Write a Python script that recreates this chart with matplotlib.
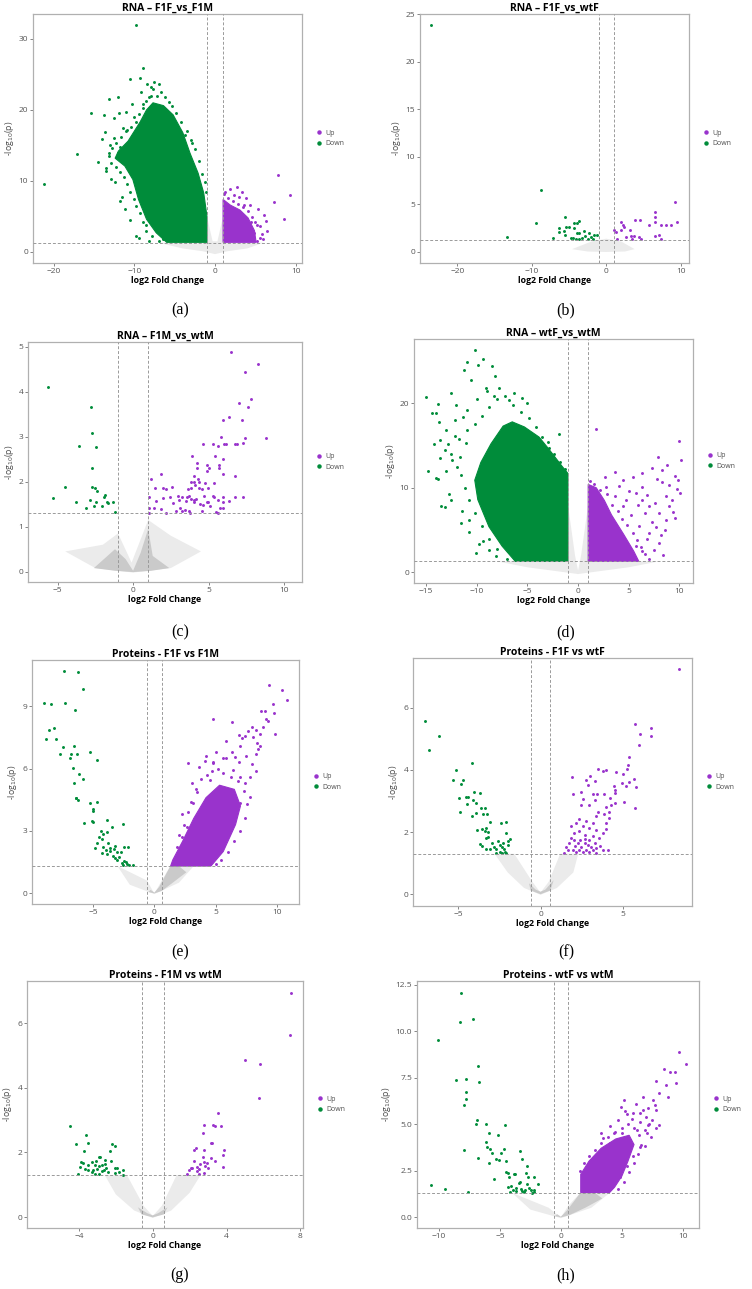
import matplotlib
matplotlib.use("Agg")
import matplotlib.pyplot as plt
from matplotlib.lines import Line2D

plt.rcParams["font.family"] = ["Open Sans", "DejaVu Sans"]

W, H = 752, 1289
GREEN = "#008C3A"
PURPLE = "#9933CC"
GREY_LIGHT = "#ebebeb"
GREY_DARK = "#cacaca"
TEXT = "#4d4d4d"

# ---------------- (a) RNA - F1F_vs_F1M ----------------
a_down_x = [-21.2, -17.1, -15.4, -14.5, -13.5, -12.4, -11.6, -11.2, -9.8, -9.8, -8.9, -10.5, -9.3, -7.6,
            -13.2, -13.8, -12.0, -11.0, -8.5, -7.7, -6.7, -5.7, -13.7, -13.1, -12.0, -11.4, -10.2, -9.3,
            -10.7, -9.6, -8.6, -7.3, -6.4, -2.9, -3.7, -12.6, -11.8, -10.0, -9.0, -8.2, -11.5, -10.9,
            -8.2, -7.8, -8.6, -9.0, -9.3, -9.8, -10.0, -10.5, -10.9, -11.3, -11.8, -12.3, -12.9, -13.2,
            -12.8, -12.3, -11.7, -11.0, -10.4, -9.8, -9.5, -9.0, -8.6, -8.0, -7.2, -6.2, -5.4, -4.8,
            -4.2, -3.5, -3.0, -2.5, -2.0, -1.6, -1.3, -1.1, -7.0, -9.5, -10.6, -11.8, -12.9, -13.5,
            -13.2, -14.0, -12.6, -11.9, -10.3, -9.2, -8.0, -7.0]
a_down_y = [9.6, 13.8, 19.6, 12.6, 11.4, 9.9, 7.8, 6.0, 2.3, 31.9, 25.9, 24.4, 24.5, 23.9,
            21.6, 19.3, 21.8, 19.7, 23.6, 22.9, 22.5, 21.1, 16.9, 15.1, 13.9, 17.5, 15.8, 13.5,
            11.6, 9.2, 3.8, 3.1, 1.8, 15.3, 16.5, 16.0, 14.8, 19.0, 20.8, 21.8, 12.8, 17.2,
            1.6, 2.2, 3.0, 4.2, 5.5, 6.5, 7.5, 8.5, 9.5, 10.5, 11.2, 12.0, 12.5, 13.5,
            14.6, 15.3, 16.2, 17.0, 17.6, 18.3, 19.4, 20.3, 21.3, 22.0, 22.0, 21.8, 20.5, 19.5,
            18.3, 17.0, 15.8, 14.5, 12.8, 11.0, 9.8, 8.5, 1.5, 2.0, 4.5, 7.2, 10.3, 11.8,
            14.0, 15.9, 18.8, 19.5, 20.9, 22.5, 23.2, 23.6]
a_down_core_x = [-1.0, -1.0, -1.4, -2.1, -3.1, -4.0, -5.2, -6.4, -7.7, -8.5, -9.3, -10.8, -12.0, -12.4,
                 -11.2, -10.2, -9.5, -8.5, -7.3, -6.0]
a_down_core_y = [1.36, 5.0, 8.3, 11.1, 13.9, 16.8, 19.3, 20.6, 21.0, 20.0, 18.3, 15.6, 14.2, 13.2,
                 12.1, 10.2, 7.4, 4.6, 2.7, 1.36]
a_up_x = [7.8, 9.3, 7.3, 8.6, 6.1, 6.3, 2.7, 3.4, 3.9, 5.3, 5.2, 1.3, 2.3, 4.8, 4.5, 5.6, 3.6,
          1.1, 1.6, 2.2, 2.9, 3.5, 4.1, 4.6, 5.0, 5.6, 5.8, 6.0, 5.2, 4.4, 3.0, 1.8, 6.5, 4.7]
a_up_y = [10.8, 8.0, 7.0, 4.6, 5.2, 4.4, 9.2, 8.5, 7.6, 6.1, 3.8, 8.5, 8.0, 2.7, 4.2, 2.0, 6.6,
          8.2, 7.6, 7.2, 6.8, 6.4, 5.8, 4.9, 4.2, 3.6, 2.5, 1.8, 1.6, 6.6, 7.7, 8.9, 3.0, 2.2]
a_up_core_x = [1.0, 1.0, 1.9, 3.1, 4.1, 4.9, 5.1]
a_up_core_y = [1.36, 7.4, 6.6, 5.9, 4.8, 3.0, 1.36]
a_ns_x = [-7.0, -1.0, -1.0, -0.3, 0.3, 1.0, 1.0, 6.0, 4.0, 1.5, 0.0, -1.5, -4.0]
a_ns_y = [1.3, 1.3, 5.0, 1.5, 1.5, 5.0, 1.3, 1.3, 0.5, 0.1, -0.3, 0.1, 0.5]

# ---------------- (b) RNA - F1F_vs_wtF ----------------
b_down_x = [-23.5, -8.7, -9.4, -13.3, -5.6, -7.2, -6.4, -6.4, -5.6, -5.4, -5.0, -5.7, -4.3, -3.9, -3.6,
            -4.3, -3.9, -4.5, -4.1, -3.6, -3.0, -3.2, -2.8, -2.3, -2.1, -1.8, -1.2, -2.5, -4.7, -3.7, -1.7]
b_down_y = [23.9, 6.5, 3.1, 1.6, 3.7, 1.5, 2.5, 2.1, 1.75, 2.6, 2.6, 2.2, 3.0, 3.1, 3.3,
            2.5, 2.0, 1.5, 1.4, 2.0, 2.2, 1.5, 1.65, 2.0, 1.6, 1.4, 1.8, 1.4, 1.5, 1.35, 1.8]
b_up_x = [1.1, 1.25, 1.5, 2.0, 2.2, 2.4, 2.0, 2.6, 3.2, 3.3, 3.5, 3.7, 3.9, 4.5, 4.4, 5.7, 6.6, 6.6,
          6.6, 6.6, 7.1, 7.4, 7.4, 8.0, 8.7, 9.2, 9.5, 4.6]
b_up_y = [2.35, 2.1, 1.35, 3.2, 2.85, 2.6, 2.35, 1.6, 2.35, 1.65, 1.35, 1.65, 3.35, 3.35, 1.6, 2.8, 4.25,
          3.7, 3.2, 1.65, 1.75, 2.8, 1.35, 2.85, 2.85, 5.25, 3.15, 1.4]
b_ns_x = [-4.6, -2.0, 0.0, 2.0, 3.8, 2.5, 0.0, -2.5]
b_ns_y = [0.3, 1.1, 1.4, 1.1, 0.3, 0.05, 0.0, 0.05]

# ---------------- (c) RNA - F1M_vs_wtM ----------------
c_down_x = [-5.66, -5.31, -4.51, -3.76, -3.56, -2.77, -2.74, -2.74, -2.43, -2.70, -2.54, -2.39, -2.83,
            -3.10, -2.59, -2.43, -1.95, -1.86, -1.73, -1.64, -2.04, -1.33, -1.22]
c_down_y = [4.11, 1.65, 1.88, 1.54, 2.80, 3.67, 3.09, 2.31, 2.77, 1.88, 1.87, 1.80, 1.59,
            1.42, 1.46, 1.55, 1.66, 1.71, 1.54, 1.53, 1.47, 1.54, 1.32]
c_up_x = [6.46, 8.30, 7.41, 7.79, 7.04, 7.59, 6.33, 5.95, 7.23, 8.78, 7.43, 5.80, 4.65, 5.31, 5.60, 6.02,
          6.13, 6.77, 6.92, 7.30, 3.92, 5.42, 5.93, 4.23, 4.91, 5.69, 4.27, 4.87, 5.04, 5.69, 1.88, 5.93,
          6.79, 1.17, 4.05, 4.29, 3.87, 4.05, 4.34, 4.80, 5.38, 1.46, 1.97, 2.19, 2.61, 3.67, 3.87, 4.12,
          4.38, 4.54, 4.96, 1.08, 1.99, 2.43, 3.01, 3.27, 3.58, 3.72, 3.83, 4.03, 4.20, 4.69, 5.31, 5.38,
          5.97, 6.73, 7.30, 1.55, 3.05, 3.50, 4.07, 4.87, 4.98, 5.66, 5.93, 6.39, 1.39, 1.88, 2.65, 3.12,
          4.42, 4.65, 5.09, 5.93, 1.08, 1.08, 2.15, 2.83, 3.21, 3.43, 3.69, 3.76, 4.60, 5.53, 5.60, 5.75]
c_up_y = [4.89, 4.61, 4.44, 3.85, 3.76, 3.67, 3.44, 3.38, 3.37, 2.97, 2.97, 3.00, 2.83, 2.83, 2.80, 2.83,
          2.83, 2.83, 2.83, 2.86, 2.57, 2.57, 2.51, 2.41, 2.38, 2.38, 2.31, 2.23, 2.31, 2.31, 2.17, 2.17,
          2.13, 2.07, 2.13, 2.06, 2.00, 2.00, 2.00, 1.98, 1.98, 1.86, 1.86, 1.85, 1.89, 1.83, 1.87, 1.92,
          1.87, 1.85, 1.86, 1.66, 1.65, 1.66, 1.68, 1.66, 1.66, 1.68, 1.62, 1.59, 1.61, 1.68, 1.69, 1.66,
          1.66, 1.66, 1.66, 1.57, 1.59, 1.57, 1.55, 1.54, 1.55, 1.59, 1.54, 1.57, 1.42, 1.39, 1.53, 1.42,
          1.51, 1.48, 1.45, 1.42, 1.42, 1.31, 1.31, 1.35, 1.35, 1.37, 1.36, 1.31, 1.35, 1.33, 1.31, 1.41]
c_ns_x = [-4.5, -2.0, -1.0, -0.1, 1.0, 2.5, 4.5, 2.5, 0.0, -2.5]
c_ns_y = [0.45, 0.6, 0.85, 0.2, 1.15, 0.8, 0.45, 0.08, -0.02, 0.08]
c_ns_core_x = [-2.6, -1.2, -0.5, 0.0, 0.5, 1.0, 1.3, 2.4, 1.2, 0.0, -1.2]
c_ns_core_y = [0.08, 0.5, 0.28, 0.02, 0.42, 0.95, 0.35, 0.08, 0.02, -0.01, 0.02]

# ---------------- (d) RNA - wtF_vs_wtM ----------------
d_down_x = [-15.0, -14.8, -14.4, -14.0, -13.8, -13.7, -14.0, -13.8, -13.5, -13.1, -12.7, -12.5, -13.6,
            -13.1, -12.2, -12.1, -11.6, -11.3, -11.0, -10.6, -10.2, -9.9, -9.4, -8.5, -8.2, -9.1, -10.1,
            -9.4, -11.4, -11.1, -11.7, -12.4, -10.8, -8.3, -6.8, -5.5, -1.9, -2.9, -3.4, -8.1, -8.8,
            -7.0, -8.0, -8.8, -9.5, -10.2, -10.8, -11.2, -11.6, -12.0, -12.5, -12.8, -11.8, -11.0, -10.2,
            -9.5, -8.8, -8.0, -7.2, -6.4, -5.6, -4.8, -4.2, -3.6, -3.0, -2.4, -1.8, -1.3, -13.0, -13.6,
            -14.2, -13.0, -12.2, -11.0, -10.0, -9.0, -7.8, -6.3, -5.0, -9.7, -12.5, -11.5, -10.8, -9.8]
d_down_y = [20.7, 12.0, 18.8, 18.9, 19.9, 17.8, 11.2, 11.1, 7.8, 7.7, 9.3, 21.2, 15.7,
            14.5, 16.1, 19.8, 5.8, 23.9, 24.9, 22.7, 26.3, 24.5, 25.2, 24.4, 23.2, 21.8, 2.3,
            3.7, 18.4, 15.3, 13.7, 13.3, 6.2, 20.8, 20.4, 20.6, 16.4, 14.7, 14.1, 1.9, 2.7,
            1.6, 2.8, 4.0, 5.5, 7.0, 8.5, 10.0, 11.5, 12.5, 14.0, 15.2, 15.8, 16.8, 17.5,
            18.5, 19.5, 20.5, 20.8, 19.8, 19.0, 18.3, 17.2, 16.0, 15.4, 14.0, 13.0, 12.2, 12.0, 13.5,
            15.2, 16.8, 18.0, 19.2, 20.5, 21.5, 21.8, 21.2, 20.0, 10.2, 8.6, 7.3, 4.8, 3.3]
d_down_core_x = [-1.0, -1.0, -1.55, -2.9, -3.85, -5.3, -6.5, -7.4, -8.6, -9.6, -10.2, -9.9, -8.8, -7.5, -6.2]
d_down_core_y = [1.3, 11.7, 12.5, 14.6, 16.0, 17.2, 17.8, 17.3, 15.2, 13.0, 10.9, 8.6, 5.4, 3.1, 1.3]
d_up_x = [1.8, 10.0, 10.2, 7.9, 9.6, 9.9, 9.8, 10.1, 9.6, 8.3, 7.3, 6.3, 5.4, 4.4, 3.6, 2.7, 8.3, 8.7,
          9.0, 8.0, 7.7, 7.0, 8.2, 8.4, 6.3, 5.7, 8.7, 9.3, 6.3, 7.0, 5.7, 4.7,
          1.2, 1.6, 2.2, 2.9, 3.4, 3.9, 4.3, 4.8, 5.4, 5.8, 6.2, 6.6, 7.0, 7.5, 6.8, 6.0, 5.2, 4.4,
          3.6, 2.8, 7.3, 6.6, 5.9, 5.0, 4.0, 6.3, 7.6, 8.0, 8.6, 9.4, 9.0, 7.8, 6.8, 8.8]
d_up_y = [16.9, 15.5, 13.3, 13.6, 11.4, 10.9, 9.8, 9.4, 6.4, 12.1, 12.3, 11.7, 11.3, 10.9, 11.9, 11.3,
          10.7, 9.0, 7.8, 7.0, 5.4, 4.6, 4.4, 2.1, 2.5, 3.1, 6.2, 8.6, 8.6, 7.8, 9.4, 8.6,
          10.8, 10.4, 9.7, 9.3, 8.0, 7.2, 6.3, 5.6, 4.6, 3.8, 3.0, 2.2, 1.6, 2.6, 4.0, 5.5, 6.8, 7.9,
          9.0, 10.1, 6.0, 7.0, 8.0, 9.6, 10.2, 10.1, 8.2, 3.5, 5.0, 7.1, 10.3, 11.0, 9.2, 12.7]
d_up_core_x = [1.0, 1.0, 1.8, 2.6, 3.3, 4.5, 5.5, 6.0]
d_up_core_y = [1.3, 10.4, 10.0, 8.5, 6.8, 4.5, 2.5, 1.3]
d_ns_x = [-8.0, -1.0, -1.0, -0.3, 0.0, 0.3, 1.0, 1.0, 8.0, 5.0, 0.0, -5.0]
d_ns_y = [1.3, 1.3, 8.0, 2.0, 0.2, 2.0, 8.0, 1.3, 1.3, 0.6, -0.2, 0.6]

# ---------------- (e) Proteins - F1F vs F1M ----------------
e_down_x = [-7.38, -6.24, -5.81, -8.97, -8.41, -7.27, -6.43, -8.59, -8.16, -8.84, -7.97, -7.46, -7.65,
            -6.57, -6.78, -6.89, -6.30, -5.22, -4.68, -6.62, -6.14, -5.84, -6.51, -6.38, -6.19, -6.35,
            -5.22, -4.65, -5.03, -4.95, -5.08, -4.95, -5.70, -3.86, -3.41, -2.57, -4.32, -4.14, -4.49,
            -3.86, -3.78, -4.27, -4.68, -4.86, -4.14, -3.59, -3.19, -2.46, -2.11, -3.97, -3.59, -3.32,
            -3.00, -4.24, -3.86, -3.38, -3.19, -2.89, -2.73, -3.05, -2.46, -2.65, -2.30, -2.05, -1.76,
            -2.57, -2.24]
e_down_y = [10.71, 10.66, 9.84, 9.16, 9.12, 9.16, 8.83, 7.86, 7.97, 7.43, 7.43, 7.04, 6.72,
            7.11, 6.70, 6.50, 6.72, 6.80, 6.40, 6.05, 5.74, 5.51, 5.31, 4.60, 4.50, 4.57,
            4.32, 4.37, 4.04, 3.97, 3.49, 3.41, 3.39, 3.52, 3.20, 3.34, 2.99, 2.85, 2.68,
            2.93, 2.43, 2.60, 2.40, 2.19, 2.24, 2.19, 2.27, 2.20, 2.24, 2.07, 2.04, 2.11,
            1.99, 1.91, 1.88, 1.78, 1.70, 1.75, 1.99, 1.59, 1.56, 1.43, 1.48, 1.35, 1.35,
            1.35, 1.38]
e_up_x = [9.32, 10.41, 10.78, 9.65, 9.76, 8.65, 8.97, 9.11, 9.22, 9.84, 4.78, 6.35, 5.81, 8.84, 7.95,
          7.62, 8.30, 8.57, 6.89, 7.35, 8.03, 7.00, 8.38, 8.43, 8.24, 7.49, 6.57, 2.76, 4.11, 5.54,
          4.78, 6.41, 6.95, 7.35, 7.76, 3.43, 3.16, 2.27, 2.62, 2.22, 6.95, 6.41, 5.86, 5.32, 4.78,
          4.24, 6.14, 5.32, 4.51,
          1.8, 2.0, 2.4, 2.7, 3.0, 3.4, 3.8, 4.3, 4.7, 5.2, 5.6, 6.2, 6.8, 7.3, 7.5, 7.4, 7.0, 6.5,
          6.0, 5.4, 5.0, 5.8, 6.3, 6.9, 7.8, 7.9, 5.0, 4.2, 3.6, 3.1, 8.3, 8.6, 7.1, 4.8]
e_up_y = [10.03, 9.77, 9.31, 9.12, 8.70, 8.78, 8.76, 8.38, 8.31, 7.68, 8.41, 8.25, 7.35, 8.02, 8.02,
          7.83, 7.86, 7.67, 7.62, 7.57, 7.54, 7.09, 7.22, 6.93, 6.69, 6.61, 6.54, 6.29, 6.37, 6.53,
          6.25, 5.93, 5.61, 5.29, 4.65, 4.89, 4.32, 3.79, 3.20, 2.72, 4.32, 3.68, 3.20, 2.72, 2.24,
          1.75, 4.32, 4.97, 5.45,
          2.2, 2.8, 3.3, 3.9, 4.4, 5.0, 5.5, 5.7, 5.9, 6.0, 5.8, 5.6, 5.4, 4.9, 4.3, 3.6, 3.0, 2.5,
          2.0, 1.6, 1.4, 6.5, 6.8, 6.3, 5.6, 6.2, 6.8, 6.6, 6.1, 5.3, 5.9, 7.1, 7.5, 6.3]
e_up_core_x = [1.32, 4.6, 5.6, 6.6, 7.0, 6.5, 5.3, 4.2, 3.2, 2.3, 1.5]
e_up_core_y = [1.30, 1.30, 2.0, 3.3, 4.2, 5.0, 5.2, 4.6, 3.6, 2.5, 1.6]
e_ns_x = [-3.0, -0.6, 0.0, 0.6, 1.3, 3.2, 2.0, 0.0, -2.0]
e_ns_y = [1.3, 0.6, -0.03, 0.6, 1.3, 1.3, 0.5, -0.05, 0.4]
e_ns_core_x = [-0.3, 0.0, 0.4, 1.3, 2.0, 2.6, 1.5, 0.6, 0.0, -0.5]
e_ns_core_y = [0.15, 0.02, 0.3, 1.3, 1.3, 1.0, 0.5, 0.1, -0.02, 0.05]

# ---------------- (f) Proteins - F1F vs wtF ----------------
f_down_x = [-7.04, -6.17, -6.82, -5.17, -5.35, -4.73, -4.87, -4.18, -4.99, -4.52, -4.40, -4.08, -3.69,
            -4.89, -4.48, -4.12, -3.96, -3.65, -3.41, -4.18, -3.91, -3.51, -3.25, -3.10, -3.85, -3.59,
            -3.31, -3.41, -3.17, -2.41, -2.09, -2.13, -3.67, -3.31, -3.21, -3.55, -3.35, -3.10, -2.98,
            -2.84, -2.70, -2.58, -2.49, -2.29, -2.37, -2.23, -1.99, -1.89, -1.97, -2.45, -2.17, -2.09,
            -2.70, -2.35]
f_down_y = [5.58, 5.08, 4.64, 3.99, 3.68, 3.68, 3.54, 4.22, 3.08, 3.14, 3.14, 3.30, 3.24,
            2.66, 2.89, 3.02, 2.93, 2.77, 2.76, 2.53, 2.62, 2.59, 2.59, 2.32, 2.07, 2.10,
            2.14, 2.04, 2.01, 2.29, 2.32, 1.96, 1.62, 1.80, 1.83, 1.56, 1.47, 1.47, 1.64,
            1.53, 1.47, 1.70, 1.59, 1.64, 1.53, 1.45, 1.70, 1.77, 1.59, 1.37, 1.37, 1.34,
            1.34, 1.34]
f_up_x = [8.46, 5.76, 6.73, 6.06, 6.71, 6.02, 5.37, 5.33, 5.27, 5.03, 4.97, 5.42, 5.68, 5.82, 5.21, 5.11,
          5.78, 4.00, 3.51, 3.83, 4.60, 3.04, 2.76, 3.31, 1.93, 2.92, 1.97, 2.45, 3.20, 3.43, 3.87, 4.48,
          4.54, 4.56, 4.24, 4.52, 3.96, 4.16, 4.32, 3.29, 2.58, 2.47, 2.98, 3.49, 3.89, 4.00, 4.20, 3.39,
          3.18, 2.78, 2.37, 2.58, 2.98, 3.39, 3.79, 3.96, 2.17, 1.87, 2.01, 2.37, 2.68, 3.18, 3.59, 1.87,
          2.07, 2.27, 2.47, 2.68, 2.88, 3.08, 3.29, 3.63, 4.14, 1.56, 1.66, 1.46, 1.97, 2.17, 2.37, 2.58,
          2.78, 2.98, 3.18, 3.39, 3.79, 2.41, 2.74, 2.98, 1.76, 2.13, 3.39]
f_up_y = [7.24, 5.48, 5.34, 5.17, 5.09, 4.81, 4.41, 4.16, 4.03, 3.87, 3.57, 3.62, 3.72, 3.44, 3.49, 2.97,
          2.76, 4.00, 4.03, 3.95, 3.93, 3.80, 3.68, 3.63, 3.76, 3.50, 3.23, 3.30, 3.23, 3.22, 3.22, 3.47,
          3.36, 3.25, 3.11, 2.95, 2.82, 2.66, 2.88, 3.02, 3.06, 2.88, 2.88, 2.66, 2.59, 2.29, 2.45, 2.50,
          2.29, 2.34, 2.41, 2.18, 2.12, 2.07, 1.96, 2.09, 2.29, 2.18, 1.96, 2.02, 1.91, 1.88, 1.80, 1.80,
          1.75, 1.64, 1.53, 1.64, 1.59, 1.53, 1.64, 1.56, 1.41, 1.53, 1.41, 1.34, 1.43, 1.37, 1.43, 1.37,
          1.43, 1.37, 1.43, 1.34, 1.43, 1.75, 1.77, 1.73, 1.64, 1.56, 1.48]
f_ns_x = [-2.8, -1.6, -0.5, 0.0, 0.5, 1.2, 2.3, 2.0, 1.0, 0.0, -1.0, -2.0]
f_ns_y = [1.3, 1.3, 0.4, 0.05, 0.4, 1.3, 1.3, 0.7, 0.2, -0.02, 0.2, 0.7]
f_ns_core_x = [-0.7, -0.3, 0.0, 0.3, 0.8, 0.6, 0.0, -0.6]
f_ns_core_y = [0.35, 0.15, 0.08, 0.15, 0.45, 0.12, 0.0, 0.12]

# ---------------- (g) Proteins - F1M vs wtM ----------------
g_down_x = [-4.50, -4.14, -4.07, -3.93, -3.89, -3.75, -3.71, -3.60, -3.53, -3.68, -3.53, -3.48, -3.30,
            -3.30, -3.15, -3.12, -3.03, -3.06, -2.92, -2.85, -2.90, -2.76, -2.76, -2.92, -2.61, -2.58,
            -2.52, -2.40, -2.31, -2.27, -2.18, -2.07, -2.07, -2.04, -1.91, -1.80, -1.59, -1.59, -2.65,
            -3.21]
g_down_y = [2.83, 2.27, 1.33, 1.54, 1.70, 1.67, 2.05, 2.55, 2.29, 1.50, 1.60, 1.44, 1.71,
            1.39, 1.33, 1.62, 1.48, 1.72, 1.86, 1.87, 1.57, 1.60, 1.43, 1.33, 1.65, 1.75,
            1.51, 1.39, 2.05, 1.72, 2.27, 2.20, 1.36, 1.51, 1.51, 1.39, 1.44, 1.31, 1.44,
            1.46]
g_up_x = [7.51, 7.41, 4.99, 5.82, 5.78, 3.53, 2.77, 3.28, 3.40, 3.69, 2.70, 3.13, 3.19, 2.34, 2.23, 2.77,
          3.85, 3.82, 3.15, 3.35, 2.25, 2.70, 2.77, 2.92, 2.85, 2.56, 2.05, 1.98, 2.13, 2.40, 2.52, 3.01,
          3.82, 1.87, 2.49, 2.79, 2.38]
g_up_y = [6.94, 5.63, 4.86, 4.73, 3.68, 3.22, 2.86, 2.85, 2.80, 2.81, 2.59, 2.28, 2.30, 2.13, 2.08, 2.08,
          2.08, 1.91, 1.83, 1.73, 1.72, 1.85, 1.70, 1.67, 1.59, 1.65, 1.53, 1.46, 1.53, 1.43, 1.48, 1.51,
          1.54, 1.33, 1.33, 1.36, 1.54]
g_ns_x = [-2.6, -1.4, -0.5, 0.0, 0.5, 1.3, 2.6, 2.0, 1.0, 0.0, -1.0, -2.0]
g_ns_y = [1.3, 1.3, 0.35, 0.03, 0.35, 1.3, 1.3, 0.75, 0.2, -0.03, 0.2, 0.7]
g_ns_core_x = [-0.8, -0.3, 0.0, 0.3, 0.8, 0.6, 0.0, -0.6]
g_ns_core_y = [0.3, 0.12, 0.05, 0.12, 0.3, 0.08, -0.01, 0.08]

# ---------------- (h) Proteins - wtF vs wtM ----------------
h_down_x = [-8.17, -8.28, -7.19, -10.08, -6.81, -8.58, -7.82, -6.73, -7.82, -7.82, -7.96, -6.87, -6.95,
            -6.10, -4.55, -5.89, -5.18, -6.10, -6.02, -5.83, -5.67, -4.88, -4.66, -3.38, -7.98, -6.81,
            -5.91, -5.29, -5.10, -4.52, -3.16, -5.45, -2.78, -4.50, -4.33, -3.87, -3.73, -4.28, -2.86,
            -2.70, -2.18, -10.68, -9.54, -7.63, -4.36, -4.09, -3.92, -4.20, -3.65, -3.46, -3.38, -3.27,
            -3.65, -3.05, -2.92, -2.78, -2.64, -2.45, -2.18, -2.37, -1.91, -2.23, -3.16]
h_down_y = [12.08, 10.47, 10.68, 9.52, 8.11, 7.36, 7.42, 7.28, 6.73, 6.33, 6.05, 5.21, 4.99,
            4.99, 4.94, 4.51, 4.40, 4.04, 3.76, 3.67, 3.43, 3.47, 3.65, 3.56, 3.60, 3.17,
            2.93, 3.11, 3.08, 3.02, 3.11, 2.04, 2.72, 2.45, 2.36, 2.33, 2.31, 2.18, 2.36,
            2.18, 2.18, 1.70, 1.52, 1.34, 1.59, 1.68, 1.47, 1.34, 1.56, 1.82, 1.91, 1.49,
            1.41, 1.34, 1.47, 1.77, 1.54, 1.47, 1.47, 1.32, 1.77, 1.34, 1.41]
h_up_x = [9.70, 10.30, 8.47, 8.99, 9.37, 9.43, 7.79, 8.66, 8.80, 8.07, 6.76, 7.52, 7.71, 7.79, 7.17, 6.76,
          6.49, 6.98, 7.47, 8.04, 7.17, 5.26, 5.40, 5.83, 4.36, 5.04, 3.49, 4.03, 2.62, 6.21, 7.03, 5.67,
          4.85, 6.49, 5.94, 5.40, 4.03, 4.85, 4.17,
          1.6, 1.9, 2.3, 2.8, 3.3, 3.9, 4.4, 5.0, 5.5, 6.0, 6.4, 6.6, 6.3, 6.0, 5.6, 5.2, 4.7, 6.9,
          7.2, 4.0, 4.7, 5.9, 6.5, 3.3, 7.4, 6.9, 7.8, 4.9, 5.2, 6.2]
h_up_y = [8.87, 8.26, 7.94, 7.82, 7.82, 7.21, 7.33, 7.10, 6.46, 6.65, 6.46, 6.29, 6.03, 5.76, 5.85, 5.76,
          5.58, 5.40, 5.22, 4.96, 4.96, 5.72, 5.55, 5.26, 4.54, 4.51, 4.24, 3.97, 3.04, 4.69, 4.51, 4.15,
          3.79, 3.79, 3.26, 2.72, 2.36, 2.18, 1.65,
          2.5, 2.9, 3.3, 3.6, 4.0, 4.3, 4.6, 4.8, 5.0, 4.8, 4.4, 3.9, 3.4, 2.9, 2.4, 1.9, 1.5, 4.7,
          5.0, 4.9, 5.2, 5.6, 5.1, 4.5, 4.3, 3.8, 4.8, 5.9, 6.3, 6.1]
h_up_core_x = [1.63, 1.63, 2.3, 3.3, 4.5, 5.6, 6.0, 5.5, 5.0, 4.4, 4.0]
h_up_core_y = [1.32, 2.3, 3.0, 3.7, 4.2, 4.4, 3.9, 3.0, 2.2, 1.6, 1.32]
h_ns_x = [-4.0, -1.0, 0.0, 0.6, 1.6, 4.0, 2.5, 0.0, -2.5]
h_ns_y = [1.3, 0.5, -0.03, 0.6, 1.3, 1.3, 0.5, -0.06, 0.4]
h_ns_core_x = [-0.3, 0.0, 0.5, 1.6, 2.8, 3.4, 2.0, 0.7, 0.0, -0.5]
h_ns_core_y = [0.15, 0.02, 0.35, 1.3, 1.3, 1.0, 0.5, 0.1, -0.02, 0.05]


def add_panel(box, title, xlim, ylim, xticks, yticks, fc,
              down, up, down_core=None, up_core=None, ns=None, ns_core=None,
              ytick_fmt="{:g}"):
    left, top, right, bottom = box
    ax = fig.add_axes([left / W, 1 - bottom / H, (right - left) / W, (bottom - top) / H])

    # dense clouds are drawn as filled outlines, loose points as dots
    if ns is not None:
        ax.fill(ns[0], ns[1], color=GREY_LIGHT, lw=0, zorder=1)
    if ns_core is not None:
        ax.fill(ns_core[0], ns_core[1], color=GREY_DARK, lw=0, zorder=1.1)
    if down_core is not None:
        ax.fill(down_core[0], down_core[1], color=GREEN, lw=0.8, ec=GREEN, zorder=2)
    if up_core is not None:
        ax.fill(up_core[0], up_core[1], color=PURPLE, lw=0.8, ec=PURPLE, zorder=2)
    ax.scatter(down[0], down[1], s=4.5, color=GREEN, lw=0, zorder=3)
    ax.scatter(up[0], up[1], s=4.5, color=PURPLE, lw=0, zorder=3)

    for v in (-fc, fc):
        ax.axvline(v, color="#9a9a9a", lw=0.7, ls=(0, (3, 2)), zorder=4)
    ax.axhline(1.3, color="#9a9a9a", lw=0.7, ls=(0, (3, 2)), zorder=4)

    ax.set_xlim(*xlim)
    ax.set_ylim(*ylim)
    ax.set_xticks(xticks)
    ax.set_yticks(yticks)
    ax.set_yticklabels([ytick_fmt.format(t) for t in yticks])
    ax.tick_params(labelsize=6, colors="#555555", length=2, width=0.5, pad=1.5)
    for sp in ax.spines.values():
        sp.set_color("#b0b0b0")
        sp.set_linewidth(0.9)

    ax.set_title(title, fontsize=7.5, fontweight="bold", pad=1.5)
    ax.set_xlabel("log2 Fold Change", fontsize=6.3, fontweight="bold", labelpad=1)
    ax.set_ylabel(r"-log$_{10}$(p)", fontsize=6.3, color=TEXT, labelpad=2)

    handles = [Line2D([], [], marker="o", ls="", ms=2.2, color=PURPLE, label="Up"),
               Line2D([], [], marker="o", ls="", ms=2.2, color=GREEN, label="Down")]
    leg = ax.legend(handles=handles, loc="center left",
                    bbox_to_anchor=(1 + 14 / (right - left), 0.5),
                    frameon=False, fontsize=5, handlelength=1, handletextpad=0.4,
                    labelspacing=0.5, borderpad=0, borderaxespad=0)
    for t in leg.get_texts():
        t.set_color(TEXT)
    return ax


fig = plt.figure(figsize=(W / 100, H / 100), dpi=100)

add_panel((33, 14, 302, 263), "RNA – F1F_vs_F1M", (-22.6, 10.8), (-1.55, 33.5),
          [-20, -10, 0, 10], [0, 10, 20, 30], 1.0,
          (a_down_x, a_down_y), (a_up_x, a_up_y),
          (a_down_core_x, a_down_core_y), (a_up_core_x, a_up_core_y), (a_ns_x, a_ns_y))
add_panel((420, 14, 689, 263), "RNA – F1F_vs_wtF", (-25.0, 11.1), (-1.16, 25.05),
          [-20, -10, 0, 10], [0, 5, 10, 15, 20, 25], 1.0,
          (b_down_x, b_down_y), (b_up_x, b_up_y), ns=(b_ns_x, b_ns_y))
add_panel((28, 342, 302, 582), "RNA – F1M_vs_wtM", (-6.97, 11.2), (-0.23, 5.11),
          [-5, 0, 5, 10], [0, 1, 2, 3, 4, 5], 1.0,
          (c_down_x, c_down_y), (c_up_x, c_up_y),
          ns=(c_ns_x, c_ns_y), ns_core=(c_ns_core_x, c_ns_core_y))
add_panel((414, 339, 693, 583), "RNA – wtF_vs_wtM", (-16.2, 11.35), (-1.26, 27.6),
          [-15, -10, -5, 0, 5, 10], [0, 10, 20], 1.0,
          (d_down_x, d_down_y), (d_up_x, d_up_y),
          (d_down_core_x, d_down_core_y), (d_up_core_x, d_up_core_y), (d_ns_x, d_ns_y))
add_panel((32, 660, 299, 904), "Proteins - F1F vs F1M", (-9.95, 11.76), (-0.53, 11.24),
          [-5, 0, 5, 10], [0, 3, 6, 9], 0.585,
          (e_down_x, e_down_y), (e_up_x, e_up_y), None, (e_up_core_x, e_up_core_y),
          (e_ns_x, e_ns_y), (e_ns_core_x, e_ns_core_y))
add_panel((413, 658, 692, 906), "Proteins - F1F vs wtF", (-7.77, 9.23), (-0.38, 7.60),
          [-5, 0, 5], [0, 2, 4, 6], 0.585,
          (f_down_x, f_down_y), (f_up_x, f_up_y),
          ns=(f_ns_x, f_ns_y), ns_core=(f_ns_core_x, f_ns_core_y))
add_panel((27, 981, 303, 1228), "Proteins - F1M vs wtM", (-6.81, 8.14), (-0.34, 7.30),
          [-4, 0, 4, 8], [0, 2, 4, 6], 0.585,
          (g_down_x, g_down_y), (g_up_x, g_up_y),
          ns=(g_ns_x, g_ns_y), ns_core=(g_ns_core_x, g_ns_core_y))
add_panel((417, 981, 699, 1228), "Proteins - wtF vs wtM", (-11.8, 11.33), (-0.59, 12.70),
          [-10, -5, 0, 5, 10], [0.0, 2.5, 5.0, 7.5, 10.0, 12.5], 0.585,
          (h_down_x, h_down_y), (h_up_x, h_up_y), None, (h_up_core_x, h_up_core_y),
          (h_ns_x, h_ns_y), (h_ns_core_x, h_ns_core_y), ytick_fmt="{:.1f}")

labels = ["(a)", "(b)", "(c)", "(d)", "(e)", "(f)", "(g)", "(h)"]
label_pos = [(180, 310), (566, 310), (180, 632), (566, 632),
             (180, 952), (566, 952), (180, 1275), (566, 1275)]
for lab, (px, py) in zip(labels, label_pos):
    fig.text(px / W, 1 - py / H, lab, ha="center", va="center",
             fontsize=11.5, family="Liberation Serif")

fig.savefig("out.png", dpi=100)
